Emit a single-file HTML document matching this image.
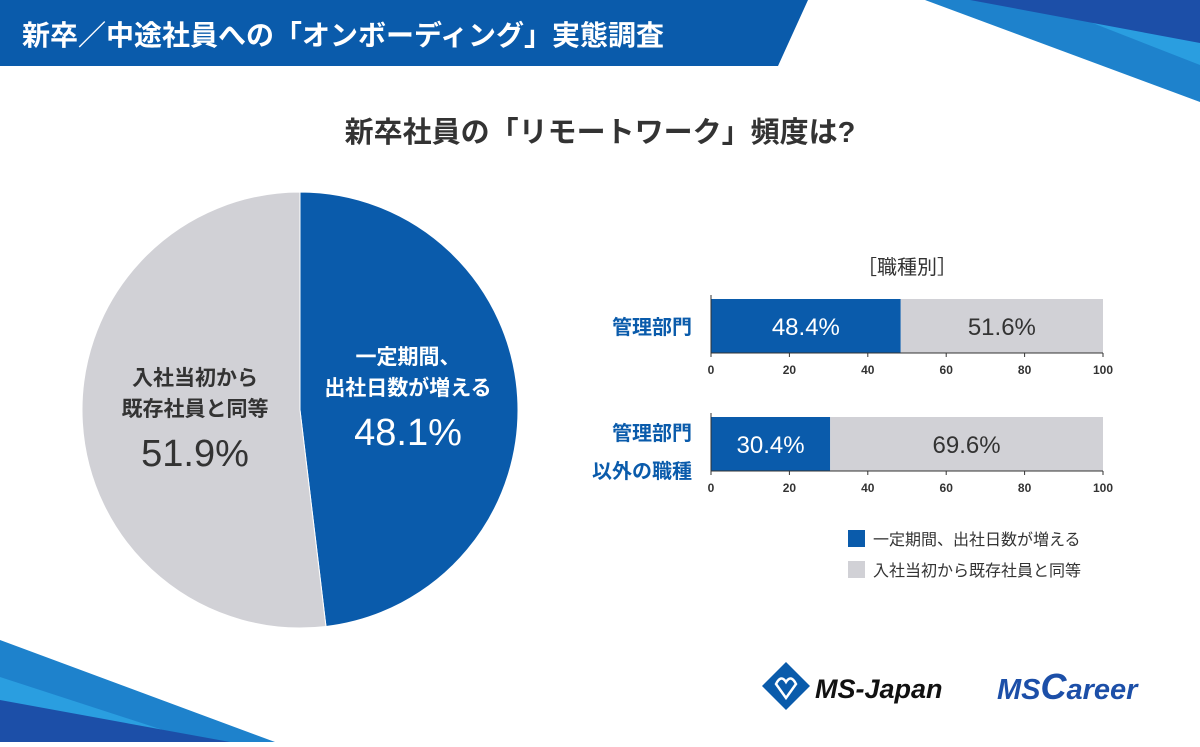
<!DOCTYPE html>
<html><head><meta charset="utf-8">
<style>
body{margin:0;width:1200px;height:742px;overflow:hidden;background:#fff;font-family:"Liberation Sans","Noto Sans CJK JP",sans-serif;}
svg text{font-family:"Liberation Sans","Noto Sans CJK JP",sans-serif;}
</style></head><body>
<svg id="chart" width="1200" height="742" viewBox="0 0 1200 742">
<polygon points="0,0 808,0 778,66 0,66" fill="#0a5bab"/>
<text x="22" y="45" font-size="28" font-weight="bold" fill="#fff">新卒／中途社員への「オンボーディング」実態調査</text>
<polygon points="925,0 1200,0 1200,102" fill="#1e82cc"/>
<polygon points="1090,22 1200,40 1200,65" fill="#2a9ee0"/>
<polygon points="970,0 1200,0 1200,43" fill="#1c4fa8"/>
<polygon points="0,640 0,742 275,742" fill="#1e82cc"/>
<polygon points="0,677 0,742 200,742" fill="#2a9ee0"/>
<polygon points="0,700 0,742 230,742" fill="#1c4fa8"/>
<text x="600" y="142" font-size="29" font-weight="bold" fill="#333" text-anchor="middle">新卒社員の「リモートワーク」頻度は?</text>
<g id="pie"></g>
<text x="195" y="385" font-size="21" font-weight="bold" fill="#333" text-anchor="middle">入社当初から</text>
<text x="195" y="416" font-size="21" font-weight="bold" fill="#333" text-anchor="middle">既存社員と同等</text>
<text x="195" y="466" font-size="38" fill="#333" text-anchor="middle">51.9%</text>
<text x="408" y="364" font-size="21" font-weight="bold" fill="#fff" text-anchor="middle">一定期間、</text>
<text x="408" y="395" font-size="21" font-weight="bold" fill="#fff" text-anchor="middle">出社日数が増える</text>
<text x="408" y="445" font-size="38" fill="#fff" text-anchor="middle">48.1%</text>
<text x="907" y="274" font-size="20" fill="#333" text-anchor="middle">［職種別］</text>
<g id="bars"></g>
<rect x="848" y="530" width="17" height="17" fill="#0a5bab"/>
<text x="873" y="545" font-size="16" fill="#333">一定期間、出社日数が増える</text>
<rect x="848" y="561" width="17" height="17" fill="#d1d1d6"/>
<text x="873" y="576" font-size="16" fill="#333">入社当初から既存社員と同等</text>
<g>
<polygon points="786,662 810,686 786,710 762,686" fill="#0a5bab"/>
<path d="M776,684 q5,-10 10,-2 q5,-8 10,2 l-10,14z" fill="none" stroke="#fff" stroke-width="2.5"/>
<text x="815" y="698" font-size="27" font-weight="bold" font-style="italic" fill="#111">MS-Japan</text>
</g>
<text x="997" y="699" font-size="29" font-weight="bold" font-style="italic" fill="#1c4fa8">MS<tspan font-size="36">C</tspan>areer</text>
</svg>
<script>
const pieLabels=["一定期間、出社日数が増える","入社当初から既存社員と同等"];
const pieValues=[48.1,51.9];
const pieColors=["#0a5bab","#d1d1d6"];
const barCategories=["管理部門","管理部門以外の職種"];
const barBlue=[48.4,30.4];
const barGray=[51.6,69.6];
const xTicks=[0,20,40,60,80,100];
const NS="http://www.w3.org/2000/svg";
function mk(t,a,p){const e=document.createElementNS(NS,t);for(const k in a)e.setAttribute(k,a[k]);p.appendChild(e);return e;}
const pie=document.getElementById('pie');
const cx=300,cy=410,r=218;let tot=pieValues.reduce((a,b)=>a+b,0),ang=-Math.PI/2;
pieValues.forEach((v,i)=>{const a2=ang+v/tot*2*Math.PI;const large=(a2-ang)>Math.PI?1:0;
const d=`M${cx},${cy} L${cx+r*Math.cos(ang)},${cy+r*Math.sin(ang)} A${r},${r} 0 ${large} 1 ${cx+r*Math.cos(a2)},${cy+r*Math.sin(a2)} Z`;
const p=mk('path',{d:d,fill:pieColors[i],stroke:'#fff','stroke-width':1},pie);


ang=a2;});
const bars=document.getElementById('bars');
const x0=711,x1=1103;const xs=v=>x0+(x1-x0)*v/100;
const rows=[{y:299,h:54,lab:[["管理部門",334]]},{y:417,h:54,lab:[["管理部門",440],["以外の職種",478]]}];
barCategories.forEach((c,i)=>{const R=rows[i];
const b=mk('rect',{x:xs(0),y:R.y,width:xs(barBlue[i])-xs(0),height:R.h,fill:'#0a5bab'},bars);


const g=mk('rect',{x:xs(barBlue[i]),y:R.y,width:xs(barBlue[i]+barGray[i])-xs(barBlue[i]),height:R.h,fill:'#d1d1d6'},bars);


const t1=mk('text',{x:(xs(0)+xs(barBlue[i]))/2,y:R.y+R.h/2+9,'font-size':24,fill:'#fff','text-anchor':'middle'},bars);t1.textContent=barBlue[i].toFixed(1)+'%';


const t2=mk('text',{x:(xs(barBlue[i])+xs(100))/2,y:R.y+R.h/2+9,'font-size':24,fill:'#333','text-anchor':'middle'},bars);t2.textContent=barGray[i].toFixed(1)+'%';


const ay=R.y+R.h;
const ax=mk('line',{x1:x0,x2:x1,y1:ay,y2:ay,stroke:'#333','stroke-width':1},bars);


mk('line',{x1:x0,x2:x0,y1:R.y-4,y2:ay,stroke:'#333','stroke-width':1},bars);
xTicks.forEach(t=>{mk('line',{x1:xs(t),x2:xs(t),y1:ay,y2:ay+4,stroke:'#333'},bars);
const tl=mk('text',{x:xs(t),y:ay+21,'font-size':12,'font-weight':'bold',fill:'#333','text-anchor':'middle'},bars);tl.textContent=t;

});
R.lab.forEach(([s,y])=>{const l=mk('text',{x:692,y:y,'font-size':20,'font-weight':'bold',fill:'#0a5bab','text-anchor':'end'},bars);l.textContent=s;

});
});
</script>
</body></html>
